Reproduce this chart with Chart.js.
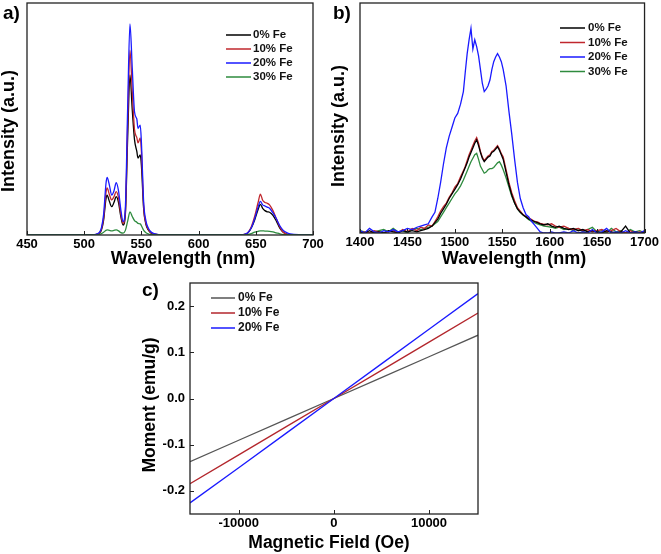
<!DOCTYPE html>
<html>
<head>
<meta charset="utf-8">
<script src="https://cdn.jsdelivr.net/npm/chart.js@4.4.1/dist/chart.umd.min.js"></script>
<style>
  body { margin: 0; background: #fff; width: 661px; height: 554px; position: relative; overflow: hidden; }
  canvas { position: absolute; }
</style>
</head>
<body>
<canvas id="chartA" width="330" height="270" style="left:0;top:0"></canvas>
<canvas id="chartB" width="331" height="270" style="left:330px;top:0"></canvas>
<canvas id="chartC" width="400" height="284" style="left:140px;top:270px"></canvas>
<script>
// ---- panel a: visible emission ----
const wavelengthA = [450,480,505,510,513,515,517,519,520,522,524,526,528,530,532,534,536,538,540,542,544,546,547,549,550,552,554,556,558,560,565,570,600,635,640,643,646,649,652,654,656,658,660,662,665,668,671,674,677,680,690,700];
const visFe0  = [0,0,0,0.002,0.007,0.02,0.065,0.155,0.172,0.145,0.122,0.14,0.165,0.14,0.08,0.043,0.09,0.42,0.69,0.54,0.41,0.36,0.332,0.345,0.30,0.11,0.045,0.022,0.01,0.005,0.001,0,0,0,0.002,0.008,0.03,0.065,0.11,0.132,0.115,0.105,0.10,0.098,0.085,0.06,0.03,0.012,0.004,0.001,0,0];
const visFe10 = [0,0,0,0.002,0.008,0.025,0.075,0.18,0.203,0.175,0.151,0.165,0.187,0.16,0.09,0.05,0.1,0.48,0.797,0.62,0.453,0.42,0.397,0.418,0.36,0.12,0.05,0.025,0.012,0.006,0.001,0,0,0,0.003,0.01,0.035,0.08,0.14,0.176,0.15,0.14,0.137,0.13,0.105,0.07,0.035,0.012,0.004,0.001,0,0];
const visFe20 = [0,0,0,0.003,0.01,0.03,0.09,0.22,0.248,0.215,0.172,0.19,0.226,0.19,0.11,0.058,0.12,0.55,0.91,0.72,0.53,0.5,0.46,0.474,0.40,0.14,0.06,0.03,0.015,0.008,0.002,0,0,0,0.003,0.01,0.03,0.07,0.12,0.145,0.13,0.125,0.12,0.115,0.095,0.07,0.04,0.02,0.01,0.005,0.001,0];
const visFe30 = [0,0,0,0,0.002,0.006,0.012,0.02,0.022,0.02,0.018,0.02,0.022,0.018,0.01,0.008,0.02,0.06,0.10,0.08,0.062,0.055,0.05,0.048,0.04,0.02,0.01,0.005,0.002,0.001,0,0,0,0,0,0.002,0.006,0.012,0.016,0.018,0.018,0.017,0.017,0.016,0.013,0.009,0.005,0.002,0.001,0,0,0];
const ticksA = [450,500,550,600,650,700];

// ---- panel b: NIR emission ----
const wavelengthB = [1400,1405,1410,1415,1420,1425,1430,1435,1440,1445,1450,1455,1460,1464,1468,1472,1476,1479,1482,1485,1488,1491,1494,1497,1500,1503,1506,1509,1511,1513,1515,1517,1519,1521,1523,1525,1527,1529,1531,1533,1535,1537,1539,1541,1543,1545,1547,1549,1551,1554,1557,1560,1563,1566,1569,1572,1575,1578,1581,1584,1587,1590,1594,1598,1602,1606,1610,1615,1620,1625,1630,1635,1640,1645,1650,1655,1660,1665,1670,1675,1680,1685,1690,1695,1700];
const nirFe0  = [0.005,0,0.01,0,0.005,0,0.01,0.005,0,0.01,0.005,0.01,0.005,0.01,0.015,0.02,0.03,0.045,0.06,0.085,0.105,0.125,0.15,0.17,0.19,0.21,0.235,0.265,0.285,0.305,0.33,0.35,0.37,0.39,0.405,0.38,0.35,0.325,0.31,0.32,0.33,0.335,0.35,0.355,0.365,0.375,0.36,0.34,0.32,0.265,0.21,0.165,0.13,0.105,0.09,0.078,0.07,0.06,0.055,0.05,0.045,0.04,0.035,0.04,0.03,0.025,0.03,0.02,0.015,0.02,0.01,0.015,0.005,0.01,0.005,0,0.01,0.005,0,0.005,0.03,0,0.005,0,0.005];
const nirFe10 = [0,0.005,0,0.01,0.005,0,0.005,0.01,0,0.015,0.005,0.02,0.01,0.025,0.02,0.035,0.03,0.05,0.07,0.095,0.115,0.13,0.155,0.175,0.2,0.215,0.245,0.27,0.29,0.315,0.34,0.36,0.38,0.40,0.415,0.39,0.355,0.33,0.315,0.325,0.335,0.34,0.355,0.36,0.37,0.38,0.365,0.345,0.33,0.275,0.22,0.175,0.14,0.11,0.095,0.08,0.072,0.065,0.058,0.05,0.048,0.042,0.038,0.035,0.04,0.03,0.025,0.03,0.02,0.015,0.02,0.01,0.015,0.005,0.01,0.015,0.005,0.01,0.02,0.005,0,0.01,0,0.005,0];
const nirFe20 = [0.01,0,0.02,0.005,0,0.01,0.005,0.015,0.005,0.01,0.02,0.015,0.025,0.03,0.035,0.04,0.07,0.09,0.15,0.22,0.3,0.37,0.42,0.46,0.5,0.52,0.56,0.615,0.70,0.78,0.84,0.89,0.80,0.84,0.81,0.77,0.71,0.65,0.615,0.625,0.64,0.665,0.71,0.745,0.765,0.78,0.765,0.745,0.71,0.64,0.53,0.43,0.32,0.22,0.15,0.11,0.08,0.07,0.05,0.035,0.02,0.005,0,0,0.005,0,0,0.005,0,0.01,0,0.005,0,0.015,0,0.005,0.02,0,0.005,0,0.01,0,0.005,0,0.01];
const nirFe30 = [0.01,0.005,0,0.005,0.01,0.015,0.005,0.02,0.005,0.01,0,0.015,0.02,0.015,0.02,0.025,0.03,0.04,0.05,0.07,0.09,0.11,0.13,0.15,0.17,0.185,0.205,0.23,0.25,0.27,0.29,0.31,0.325,0.34,0.346,0.32,0.29,0.275,0.26,0.265,0.275,0.28,0.28,0.285,0.295,0.305,0.31,0.295,0.275,0.24,0.2,0.16,0.13,0.105,0.09,0.078,0.068,0.058,0.05,0.045,0.04,0.035,0.03,0.028,0.025,0.02,0.025,0.015,0.02,0.01,0.02,0.005,0.015,0.025,0.005,0.01,0,0.02,0.005,0.01,0,0.015,0.005,0.01,0];
const ticksB = [1400,1450,1500,1550,1600,1650,1700];

// ---- panel c: M-H curves ----
const fieldC = [-15120,-10000,-5000,0,5000,10000,15150];
const momFe0  = [-0.1367,-0.0904,-0.0452,0,0.0452,0.0904,0.137];
const momFe10 = [-0.1846,-0.122,-0.061,0,0.061,0.122,0.185];
const momFe20 = [-0.226,-0.15,-0.075,0,0.075,0.15,0.227];
const ticksCx = [-10000,0,10000];
const ticksCy = [-0.2,-0.1,0,0.1,0.2];

const seriesNames = ['0% Fe','10% Fe','20% Fe','30% Fe'];
const FONT = 'Arial, "Liberation Sans", sans-serif';

// frame, inward ticks, legend and titles
const panelDecor = {
  id: 'panelDecor',
  afterDraw(chart, args, o) {
    const ctx = chart.ctx, a = chart.chartArea;
    ctx.save();
    ctx.strokeStyle = '#222';
    ctx.lineWidth = 1;
    ctx.beginPath();
    const xs = chart.scales.x;
    xs.ticks.forEach(t => {
      const px = Math.round(xs.getPixelForValue(t.value)) + 0.5;
      ctx.moveTo(px, a.bottom); ctx.lineTo(px, a.bottom - 4);
    });
    if (o.yTicks) {
      const ys = chart.scales.y;
      ys.ticks.forEach(t => {
        const py = Math.round(ys.getPixelForValue(t.value)) + 0.5;
        ctx.moveTo(a.left, py); ctx.lineTo(a.left + 4, py);
      });
    }
    ctx.stroke();
    ctx.lineWidth = 1.3;
    ctx.strokeRect(a.left, a.top, a.right - a.left, a.bottom - a.top);

    // legend
    const lg = o.legend;
    ctx.font = 'bold ' + lg.size + 'px ' + FONT;
    ctx.textBaseline = 'middle';
    ctx.textAlign = 'left';
    chart.data.datasets.forEach((ds, i) => {
      const y = lg.ys[i];
      ctx.strokeStyle = ds.borderColor;
      ctx.lineWidth = 1.5;
      ctx.beginPath(); ctx.moveTo(lg.x1, y); ctx.lineTo(lg.x2, y); ctx.stroke();
      ctx.fillStyle = '#111';
      ctx.fillText(ds.label, lg.tx, y);
    });

    // panel letter and axis titles
    ctx.fillStyle = '#000';
    ctx.font = 'bold 19px ' + FONT;
    ctx.fillText(o.letter.text, o.letter.x, o.letter.y);
    ctx.font = 'bold ' + o.titleSize + 'px ' + FONT;
    ctx.textAlign = 'center';
    ctx.fillText(o.xTitle.text, o.xTitle.x, o.xTitle.y);
    ctx.translate(o.yTitle.x, o.yTitle.y);
    ctx.rotate(-Math.PI / 2);
    ctx.fillText(o.yTitle.text, 0, 0);
    ctx.restore();
  }
};

function makeChart(id, xs, ys, colors, order, box, xTicks, yTicks, yLabels, decor, smooth) {
  const datasets = ys.map((arr, i) => ({
    label: seriesNames[i],
    data: xs.map((x, j) => ({ x: x, y: arr[j] })),
    borderColor: colors[i],
    borderWidth: 1.3,
    pointRadius: 0,
    order: order[i],
    cubicInterpolationMode: smooth ? 'monotone' : 'default',
    tension: 0
  }));
  // grid kept "on" only so that no tick length is reserved; nothing of it is drawn
  const hiddenGrid = { display: true, drawOnChartArea: false, drawTicks: false };
  return new Chart(document.getElementById(id), {
    type: 'line',
    data: { datasets: datasets },
    options: {
      responsive: false,
      animation: false,
      events: [],
      layout: { padding: { top: box.top, right: box.right, left: 0, bottom: 0 } },
      plugins: { legend: { display: false }, tooltip: { enabled: false }, panelDecor: decor },
      scales: {
        x: {
          type: 'linear', min: box.xMin, max: box.xMax,
          grid: hiddenGrid, border: { display: false },
          afterBuildTicks: s => { s.ticks = xTicks.map(v => ({ value: v })); },
          afterFit: s => { s.height = box.xH; },
          ticks: { color: '#000', padding: box.xPad, maxRotation: 0, autoSkip: false,
                   font: { family: FONT, size: 13, weight: 'bold' }, callback: v => String(v) }
        },
        y: {
          type: 'linear', min: box.yMin, max: box.yMax,
          grid: hiddenGrid, border: { display: false },
          afterBuildTicks: s => { s.ticks = yTicks.map(v => ({ value: v })); },
          afterFit: s => { s.width = box.yW; },
          ticks: { display: yLabels, color: '#000', padding: 5,
                   font: { family: FONT, size: 13, weight: 'bold' }, callback: v => v.toFixed(1) }
        }
      }
    },
    plugins: [panelDecor]
  });
}

makeChart('chartA', wavelengthA, [visFe0, visFe10, visFe20, visFe30],
  ['#000000', '#c0272d', '#1a1aff', '#2e8b3e'], [2, 1, 0, -1],
  { top: 3, right: 17, xH: 35, yW: 27, xMin: 450, xMax: 700, yMin: 0, yMax: 1, xPad: 2 },
  ticksA, [], false,
  { letter: { text: 'a)', x: 3, y: 14 }, titleSize: 18,
    xTitle: { text: 'Wavelength (nm)', x: 183, y: 259 },
    yTitle: { text: 'Intensity (a.u.)', x: 9, y: 131 },
    legend: { x1: 226, x2: 251, tx: 253, ys: [35, 49, 63, 77], size: 11.5 } }, true);

makeChart('chartB', wavelengthB, [nirFe0, nirFe10, nirFe20, nirFe30],
  ['#000000', '#c0272d', '#1a1aff', '#2e8b3e'], [1, 2, 0, 3],
  { top: 3, right: 16, xH: 37, yW: 30, xMin: 1400, xMax: 1700, yMin: 0, yMax: 1, xPad: 2 },
  ticksB, [], false,
  { letter: { text: 'b)', x: 3, y: 14 }, titleSize: 18,
    xTitle: { text: 'Wavelength (nm)', x: 184, y: 259 },
    yTitle: { text: 'Intensity (a.u.)', x: 9, y: 126 },
    legend: { x1: 230, x2: 255, tx: 258, ys: [28, 42.5, 57, 71.5], size: 11.5 } }, false);

makeChart('chartC', fieldC, [momFe0, momFe10, momFe20],
  ['#555555', '#b3262c', '#1a1aff'], [2, 1, 0],
  { top: 13, right: 62, xH: 40, yW: 50, xMin: -15120, xMax: 15150, yMin: -0.25, yMax: 0.25, xPad: 2 },
  ticksCx, ticksCy, true,
  { letter: { text: 'c)', x: 2, y: 21 }, titleSize: 17.5, yTicks: true,
    xTitle: { text: 'Magnetic Field (Oe)', x: 189, y: 273 },
    yTitle: { text: 'Moment (emu/g)', x: 10, y: 135 },
    legend: { x1: 71, x2: 95, tx: 98, ys: [28, 43, 58], size: 12 } }, false);
</script>
</body>
</html>
